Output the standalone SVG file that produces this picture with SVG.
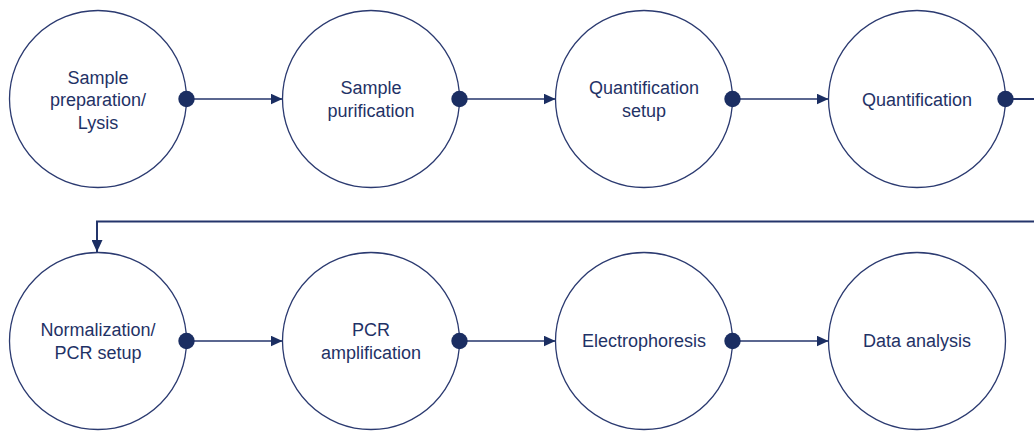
<svg xmlns="http://www.w3.org/2000/svg" width="1034" height="431" viewBox="0 0 1034 431">
<style>
.node circle{fill:#fff;stroke:#2b3a70;stroke-width:1.3}
.node text{font-family:"Liberation Sans",Arial,sans-serif;font-size:18px;fill:#1f3266;text-anchor:middle}
.conn{stroke:#24356b;stroke-width:1.3;fill:none}
.loop{stroke:#24356b;stroke-width:2;fill:none}
.dot{fill:#1b2e62}
</style>
<defs>
<marker id="ah" viewBox="0 0 12 11" refX="12" refY="5.5" markerWidth="12" markerHeight="11" markerUnits="userSpaceOnUse" orient="auto">
<path d="M0,0 L12,5.5 L0,11 Z" fill="#1b2e62"/>
</marker>
</defs>
<g id="n1" class="node"><circle cx="98" cy="99" r="88.5"/><text x="98" y="83.5">Sample</text><text x="98" y="106">preparation/</text><text x="98" y="128.5">Lysis</text></g>
<g id="n2" class="node"><circle cx="371" cy="99" r="88.5"/><text x="371" y="94">Sample</text><text x="371" y="116.5">purification</text></g>
<g id="n3" class="node"><circle cx="644" cy="99" r="88.5"/><text x="644" y="94">Quantification</text><text x="644" y="116.5">setup</text></g>
<g id="n4" class="node"><circle cx="917" cy="99" r="88.5"/><text x="917" y="105.5">Quantification</text></g>
<g id="n5" class="node"><circle cx="98" cy="341" r="88.5"/><text x="98" y="336">Normalization/</text><text x="98" y="358.5">PCR setup</text></g>
<g id="n6" class="node"><circle cx="371" cy="341" r="88.5"/><text x="371" y="336">PCR</text><text x="371" y="358.5">amplification</text></g>
<g id="n7" class="node"><circle cx="644" cy="341" r="88.5"/><text x="644" y="347">Electrophoresis</text></g>
<g id="n8" class="node"><circle cx="917" cy="341" r="88.5"/><text x="917" y="347">Data analysis</text></g>
<g id="connectors">
<line class="conn" x1="186.5" y1="99" x2="282.5" y2="99" marker-end="url(#ah)"/>
<line class="conn" x1="459.5" y1="99" x2="555.5" y2="99" marker-end="url(#ah)"/>
<line class="conn" x1="732.5" y1="99" x2="828.5" y2="99" marker-end="url(#ah)"/>
<path class="loop" d="M1005.5,99 H1040 V221.5 H97 V252" marker-end="url(#ah)"/>
<line class="conn" x1="186.5" y1="341" x2="282.5" y2="341" marker-end="url(#ah)"/>
<line class="conn" x1="459.5" y1="341" x2="555.5" y2="341" marker-end="url(#ah)"/>
<line class="conn" x1="732.5" y1="341" x2="828.5" y2="341" marker-end="url(#ah)"/>
<circle class="dot" cx="186.5" cy="99" r="8.2"/>
<circle class="dot" cx="459.5" cy="99" r="8.2"/>
<circle class="dot" cx="732.5" cy="99" r="8.2"/>
<circle class="dot" cx="1005.5" cy="99" r="8.2"/>
<circle class="dot" cx="186.5" cy="341" r="8.2"/>
<circle class="dot" cx="459.5" cy="341" r="8.2"/>
<circle class="dot" cx="732.5" cy="341" r="8.2"/>
</g>
</svg>
